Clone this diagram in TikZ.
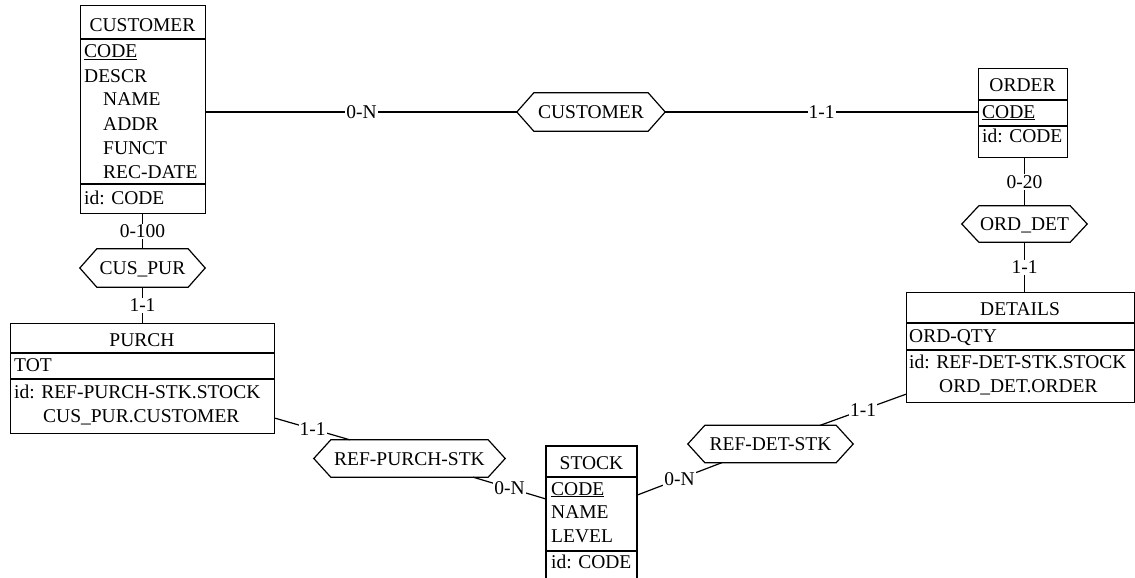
\documentclass[tikz,border=0pt]{standalone}
\usepackage{fontspec}
\setmainfont{Liberation Serif}
\usetikzlibrary{calc}
\begin{document}
\begin{tikzpicture}[x=1pt,y=-1pt,
  every node/.style={font=\fontsize{19.5pt}{24pt}\selectfont},
  edge/.style={line width=1.2pt, black},
  ent/.style={draw, line width=1.2pt, anchor=north west, inner sep=0pt},
  ttl/.style={anchor=base, inner sep=0pt},
  att/.style={anchor=base west, inner sep=0pt},
  rel/.style={inner sep=0pt, text height=13pt, text depth=0pt},
  lbl/.style={fill=white, inner sep=1pt}]
\useasboundingbox (0,0) rectangle (1135,578);
\newcommand\hexpath[1]{\draw[edge] (#1.west) -- ([xshift=17pt]#1.north west) -- ([xshift=-17pt]#1.north east) -- (#1.east) -- ([xshift=-17pt]#1.south east) -- ([xshift=17pt]#1.south west) -- cycle;}

% ---------- CUSTOMER entity ----------
\node[ent, minimum width=125pt, minimum height=208pt] (cust) at (80,5) {};
\draw[edge] (80,39) -- (205,39);
\draw[edge] (80,184) -- (205,184);
\node[ttl] (custT) at (142.5,32) {CUSTOMER};
\node[att] (custA1) at (84,58) {\underline{CODE}};
\node[att] (custA2) at (84,82) {DESCR};
\node[att] (custA3) at (103,106) {NAME};
\node[att] (custA4) at (103,130) {ADDR};
\node[att] (custA5) at (103,154) {FUNCT};
\node[att] (custA6) at (103,178) {REC-DATE};
\node[att] (custI) at (84,204) {id: CODE};

% ---------- ORDER entity ----------
\node[ent, minimum width=89pt, minimum height=89pt] (ord) at (978,68) {};
\draw[edge] (978,100) -- (1067,100);
\draw[edge] (978,126) -- (1067,126);
\node[ttl] (ordT) at (1022.5,92) {ORDER};
\node[att] (ordA1) at (982,118) {\underline{CODE}};
\node[att] (ordI) at (982,142) {id: CODE};

% ---------- PURCH entity ----------
\node[ent, minimum width=264pt, minimum height=110pt] (purch) at (10,323) {};
\draw[edge] (10,353) -- (274,353);
\draw[edge] (10,379) -- (274,379);
\node[ttl] (purchT) at (142,346) {PURCH};
\node[att] (purchA1) at (14,371) {TOT};
\node[att] (purchI1) at (14,398) {id: REF-PURCH-STK.STOCK};
\node[att] (purchI2) at (43,422) {CUS\_PUR.CUSTOMER};

% ---------- DETAILS entity ----------
\node[ent, minimum width=228pt, minimum height=110pt] (det) at (906,292) {};
\draw[edge] (906,323) -- (1134,323);
\draw[edge] (906,350) -- (1134,350);
\node[ttl] (detT) at (1020,315) {DETAILS};
\node[att] (detA1) at (909,342) {ORD-QTY};
\node[att] (detI1) at (909,368) {id: REF-DET-STK.STOCK};
\node[att] (detI2) at (939,392) {ORD\_DET.ORDER};

% ---------- STOCK entity (cut by the lower edge) ----------
\node[anchor=north west, inner sep=0pt, minimum width=91pt, minimum height=132pt] (stock) at (546,446) {};
\draw[edge] (546,578) -- (546,446) -- (637,446) -- (637,578);
\draw[edge] (546,477) -- (637,477);
\draw[edge] (546,551) -- (637,551);
\node[ttl] (stockT) at (591.5,469) {STOCK};
\node[att] (stockA1) at (551,495) {\underline{CODE}};
\node[att] (stockA2) at (551,518) {NAME};
\node[att] (stockA3) at (551,542) {LEVEL};
\node[att] (stockI) at (551,568) {id: CODE};

% ---------- relationships ----------
\node[rel, minimum width=148pt, minimum height=38pt] (crel) at (591,112) {CUSTOMER};
\node[rel, minimum width=125pt, minimum height=38pt] (cuspur) at (142.5,268) {CUS\_PUR};
\node[rel, minimum width=125pt, minimum height=36pt] (orddet) at (1024.5,224) {ORD\_DET};
\node[rel, minimum width=165pt, minimum height=37pt] (refd) at (770.5,444) {REF-DET-STK};
\node[rel, minimum width=191pt, minimum height=37pt] (refp) at (409.5,458.5) {REF-PURCH-STK};
\hexpath{crel}
\hexpath{cuspur}
\hexpath{orddet}
\hexpath{refd}
\hexpath{refp}

% ---------- connectors ----------
\draw[edge] (cust.east |- crel.west) -- node[lbl] {0-N} (crel.west);
\draw[edge] (crel.east) -- node[lbl] {1-1} (ord.west |- crel.east);
\draw[edge] (cuspur.north |- cust.south) -- node[lbl] {0-100} (cuspur.north);
\draw[edge] (cuspur.south) -- node[lbl] {1-1} (cuspur.south |- purch.north);
\draw[edge] (orddet.north |- ord.south) -- node[lbl] {0-20} (orddet.north);
\draw[edge] (orddet.south) -- node[lbl] {1-1} (orddet.south |- det.north);
\draw[edge] ([yshift=16pt]purch.south east) -- node[lbl] {1-1} ([xshift=36pt]refp.north west);
\draw[edge] ([xshift=-32pt]refp.south east) -- node[lbl] {0-N} ([yshift=-53pt]stock.north west);
\draw[edge] ([yshift=9pt]det.south west) -- node[lbl] {1-1} ([xshift=-33pt]refd.north east);
\draw[edge] ([xshift=34pt]refd.south west) -- node[lbl] {0-N} ([yshift=-49pt]stock.north east);
\end{tikzpicture}
\end{document}
